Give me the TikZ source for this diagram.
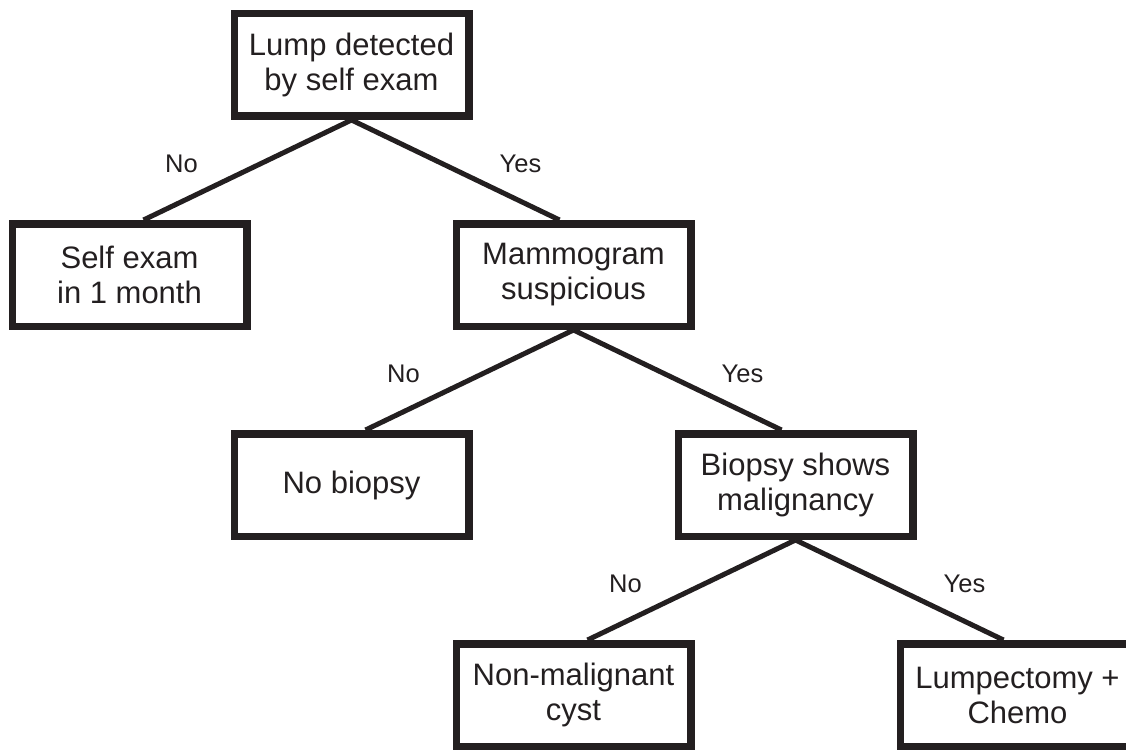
\documentclass[tikz,border=0pt]{standalone}
\usepackage{fontspec}
\setmainfont{Liberation Sans}
\usetikzlibrary{shapes,arrows,positioning}
\definecolor{ink}{RGB}{35,31,32}
\tikzstyle{decision} = [rectangle, draw=ink, line width=7.5pt, text=ink,
    align=center, minimum width=234.5pt, minimum height=102.5pt,
    font=\fontsize{31}{35}\selectfont]
\tikzstyle{branch} = [draw=ink, line width=5pt]
\tikzstyle{answer} = [text=ink, font=\fontsize{25.5}{28}\selectfont]

\begin{document}
\begin{tikzpicture}[node distance=210pt]
        \useasboundingbox (0,0) rectangle (1126pt,-749pt);
        \node [decision] (lump) at (351.5pt,-65pt) {Lump detected\\by self exam};
        \node [decision, below of=lump, xshift=-222pt] (selfexam) {Self exam\\in 1 month};
        \node [decision, below of=lump, xshift=222pt] (mammo) {Mammogram\\suspicious};
        \node [decision, below of=mammo, xshift=-222pt] (nobiopsy) {No biopsy};
        \node [decision, below of=mammo, xshift=222pt] (biopsy) {Biopsy shows\\malignancy};
        \node [decision, below of=biopsy, xshift=-222pt] (cyst) {Non-malignant\\cyst};
        \node [decision, below of=biopsy, xshift=222pt] (surgery) {Lumpectomy +\\Chemo};
        
        \path [branch] (lump.south) -- ([xshift=14pt]selfexam.north);
        \path [branch] (lump.south) -- ([xshift=-14pt]mammo.north);
        \path [branch] (mammo.south) -- ([xshift=14pt]nobiopsy.north);
        \path [branch] (mammo.south) -- ([xshift=-14pt]biopsy.north);
        \path [branch] (biopsy.south) -- ([xshift=14pt]cyst.north);
        \path [branch] (biopsy.south) -- ([xshift=-14pt]surgery.north);
        
        \node [answer] at ([shift={(-170pt,-44pt)}]lump.south) {No};
        \node [answer] at ([shift={(169pt,-44pt)}]lump.south) {Yes};
        \node [answer] at ([shift={(-170pt,-44pt)}]mammo.south) {No};
        \node [answer] at ([shift={(169pt,-44pt)}]mammo.south) {Yes};
        \node [answer] at ([shift={(-170pt,-44pt)}]biopsy.south) {No};
        \node [answer] at ([shift={(169pt,-44pt)}]biopsy.south) {Yes};
    \end{tikzpicture}
\end{document}
